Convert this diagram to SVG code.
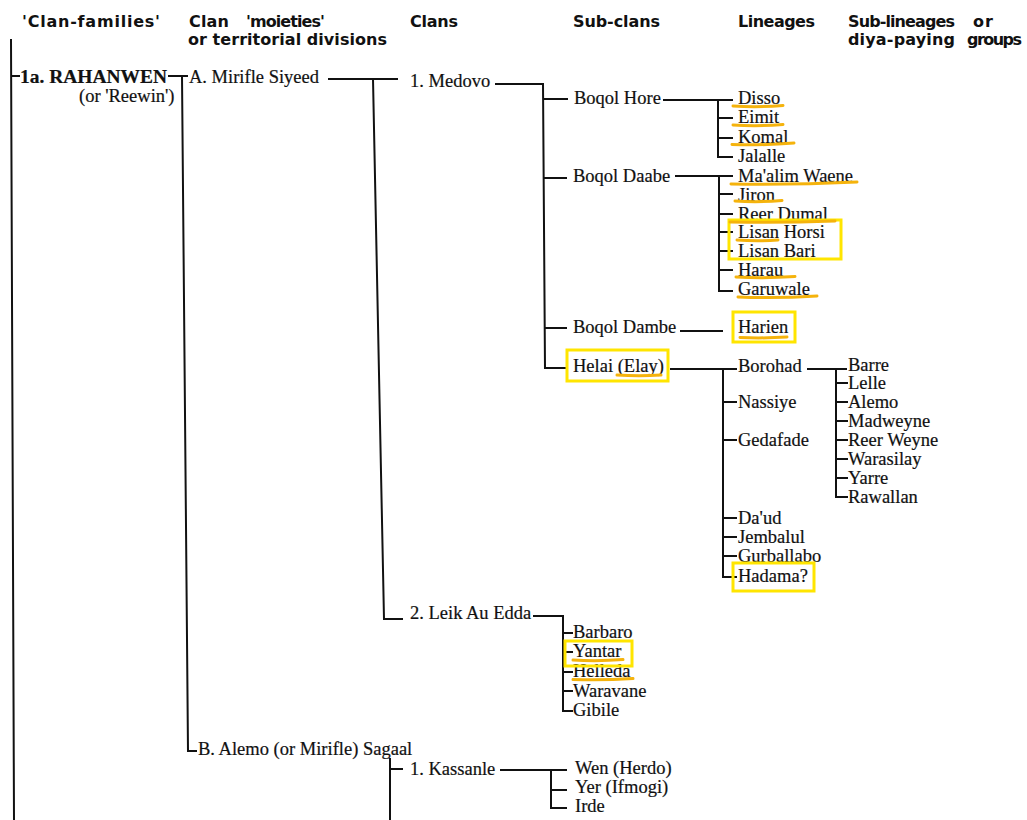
<svg xmlns="http://www.w3.org/2000/svg" width="1027" height="820" viewBox="0 0 1027 820">
<style>
.h{font-family:"DejaVu Sans","Liberation Sans",sans-serif;font-weight:bold;font-size:16px;fill:#111}
.t{font-family:"Liberation Serif","Times New Roman",serif;font-size:18.5px;fill:#111;stroke:#111;stroke-width:0.2}
.b{font-weight:bold}
.ln{stroke:#111;stroke-width:2;fill:none}
.box{fill:none;stroke:#FFE500;stroke-width:3}
.ul{fill:none;stroke:#F5B30C;stroke-width:3;stroke-linecap:round}
</style>
<rect width="1027" height="820" fill="#fff"/>
<g id="headers">
<text class="h" x="22" y="27" textLength="138" lengthAdjust="spacing">'Clan-families'</text>
<text class="h" x="189" y="27" textLength="40" lengthAdjust="spacing">Clan</text>
<text class="h" x="246" y="27" textLength="79" lengthAdjust="spacing">'moieties'</text>
<text class="h" x="188" y="45" textLength="199" lengthAdjust="spacing">or territorial divisions</text>
<text class="h" x="410" y="27" textLength="48" lengthAdjust="spacing">Clans</text>
<text class="h" x="573" y="27" textLength="87" lengthAdjust="spacing">Sub-clans</text>
<text class="h" x="738" y="27" textLength="77" lengthAdjust="spacing">Lineages</text>
<text class="h" x="848" y="27" textLength="107" lengthAdjust="spacing">Sub-lineages</text>
<text class="h" x="973" y="27" textLength="20" lengthAdjust="spacing">or</text>
<text class="h" x="848" y="45" textLength="107" lengthAdjust="spacing">diya-paying</text>
<text class="h" x="967" y="45" textLength="55" lengthAdjust="spacing">groups</text>
</g>
<g id="connectors" class="ln">
<path d="M11 39 L14 820 M11 76 H20"/>
<path d="M168 76 H188 M182 76 L188 751 H197"/>
<path d="M328 79 H398 M373 79 L384 619 H403"/>
<path d="M495 84 H543 L545 368 H567 M543 99 H568 M543 178 H567 M544 328 H567"/>
<path d="M663 100 H733 M718 100 V157 H733 M718 118 H733 M718 138 H733"/>
<path d="M675 176 H733 M719 176 V291 H733 M719 194 H733 M719 214 H733 M719 232 H733 M719 251 H733 M719 270 H733"/>
<path d="M680 331 H723"/>
<path d="M670 369 H737 M723 369 V577 H737 M723 402 H737 M723 440 H737 M723 518 H737 M723 537 H737 M723 556 H737"/>
<path d="M807 369 H847 M836 369 V497 H848 M836 383 H848 M836 402 H848 M836 421 H848 M836 440 H848 M836 459 H848 M836 478 H848"/>
<path d="M533 616 H563 V711 H573 M563 633 H573 M563 652 H573 M563 672 H573 M563 691 H573"/>
<path d="M390 758 V820 M390 769 H403"/>
<path d="M500 770 H567 M551 770 V808 H567 M551 790 H567"/>
</g>
<g id="n-rahanwen"><text class="t b" x="20" y="83" textLength="147" lengthAdjust="spacingAndGlyphs">1a. RAHANWEN</text><text class="t" x="79" y="102">(or 'Reewin')</text></g>
<g id="n-mirifle-siyeed"><text class="t" x="189" y="83">A. Mirifle Siyeed</text></g>
<g id="n-medovo"><text class="t" x="410" y="87">1. Medovo</text></g>
<g id="n-boqol-hore"><text class="t" x="574" y="104">Boqol Hore</text></g>
<g id="n-disso"><text class="t" x="738" y="104">Disso</text></g>
<g id="n-eimit"><text class="t" x="738" y="123">Eimit</text></g>
<g id="n-komal"><text class="t" x="738" y="143">Komal</text></g>
<g id="n-jalalle"><text class="t" x="738" y="162">Jalalle</text></g>
<g id="n-boqol-daabe"><text class="t" x="573" y="182">Boqol Daabe</text></g>
<g id="n-maalim-waene"><text class="t" x="738" y="182">Ma'alim Waene</text></g>
<g id="n-jiron"><text class="t" x="738" y="201">Jiron</text></g>
<g id="n-reer-dumal"><text class="t" x="738" y="220">Reer Dumal</text></g>
<g id="n-lisan-horsi"><text class="t" x="738" y="238">Lisan Horsi</text></g>
<g id="n-lisan-bari"><text class="t" x="738" y="257">Lisan Bari</text></g>
<g id="n-harau"><text class="t" x="738" y="276">Harau</text></g>
<g id="n-garuwale"><text class="t" x="738" y="295">Garuwale</text></g>
<g id="n-boqol-dambe"><text class="t" x="573" y="333">Boqol Dambe</text></g>
<g id="n-harien"><text class="t" x="738" y="333">Harien</text></g>
<g id="n-helai"><text class="t" x="573" y="372">Helai (Elay)</text></g>
<g id="n-borohad"><text class="t" x="738" y="372">Borohad</text></g>
<g id="n-nassiye"><text class="t" x="738" y="408">Nassiye</text></g>
<g id="n-gedafade"><text class="t" x="738" y="446">Gedafade</text></g>
<g id="n-daud"><text class="t" x="738" y="524">Da'ud</text></g>
<g id="n-jembalul"><text class="t" x="738" y="543">Jembalul</text></g>
<g id="n-gurballabo"><text class="t" x="738" y="562">Gurballabo</text></g>
<g id="n-hadama"><text class="t" x="738" y="582">Hadama?</text></g>
<g id="n-barre"><text class="t" x="848" y="371">Barre</text></g>
<g id="n-lelle"><text class="t" x="848" y="389">Lelle</text></g>
<g id="n-alemo"><text class="t" x="848" y="408">Alemo</text></g>
<g id="n-madweyne"><text class="t" x="848" y="427">Madweyne</text></g>
<g id="n-reer-weyne"><text class="t" x="848" y="446">Reer Weyne</text></g>
<g id="n-warasilay"><text class="t" x="848" y="465">Warasilay</text></g>
<g id="n-yarre"><text class="t" x="848" y="484">Yarre</text></g>
<g id="n-rawallan"><text class="t" x="848" y="503">Rawallan</text></g>
<g id="n-leik-au-edda"><text class="t" x="410" y="619">2. Leik Au Edda</text></g>
<g id="n-barbaro"><text class="t" x="573" y="638">Barbaro</text></g>
<g id="n-yantar"><text class="t" x="573" y="657">Yantar</text></g>
<g id="n-helleda"><text class="t" x="573" y="677">Helleda</text></g>
<g id="n-waravane"><text class="t" x="573" y="697">Waravane</text></g>
<g id="n-gibile"><text class="t" x="573" y="716">Gibile</text></g>
<g id="n-alemo-sagaal"><text class="t" x="198" y="755">B. Alemo (or Mirifle) Sagaal</text></g>
<g id="n-kassanle"><text class="t" x="410" y="775">1. Kassanle</text></g>
<g id="n-wen"><text class="t" x="575" y="774">Wen (Herdo)</text></g>
<g id="n-yer"><text class="t" x="575" y="793">Yer (Ifmogi)</text></g>
<g id="n-irde"><text class="t" x="575" y="812">Irde</text></g>
<g id="highlights">
<rect class="box" x="729" y="220" width="112" height="39"/>
<rect class="box" x="733" y="312" width="62" height="30"/>
<rect class="box" x="567" y="350" width="101" height="31"/>
<rect class="box" x="733" y="563" width="81" height="28"/>
<rect class="box" x="565" y="641" width="67" height="25"/>
<path class="ul" d="M733 106 Q758 107.5 783 105.5"/>
<path class="ul" d="M733 125 Q758 126.5 783 124.5"/>
<path class="ul" d="M732 144.5 Q763 145.5 794 143"/>
<path class="ul" d="M731 184 Q794 185 857 182"/>
<path class="ul" d="M735 201 Q758 202.5 782 200.5"/>
<path class="ul" d="M730 222 Q782 223 835 221"/>
<path class="ul" d="M737 240 Q757 241.5 778 240"/>
<path class="ul" d="M736 277 Q765 278.5 795 276.5"/>
<path class="ul" d="M738 297 Q777 298.5 817 296"/>
<path class="ul" d="M740 337.5 Q763 338.5 787 337"/>
<path class="ul" d="M617 375 Q639 376.5 661 375"/>
<path class="ul" d="M573 660 Q598 661.5 623 659.5"/>
<path class="ul" d="M573 679.5 Q603 680.5 633 678.5"/>
</g>
</svg>
